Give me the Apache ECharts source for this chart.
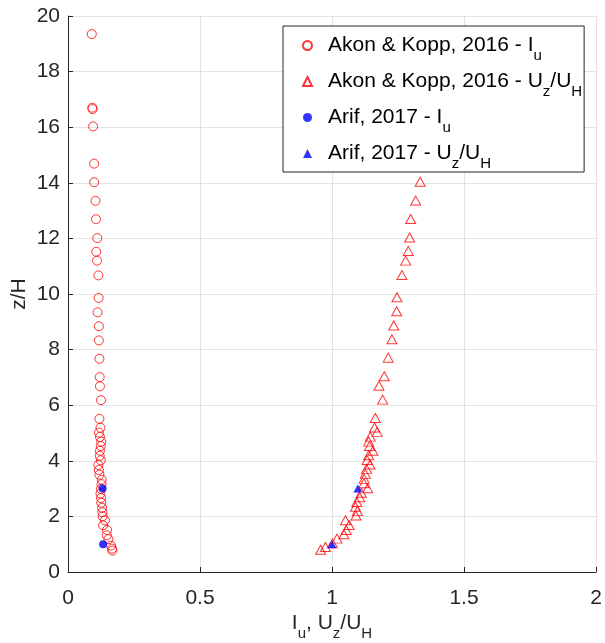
<!DOCTYPE html>
<html>
<head>
<meta charset="utf-8">
<script src="https://cdn.jsdelivr.net/npm/echarts@6/dist/echarts.min.js"></script>
<style>
html,body{margin:0;padding:0;background:#fff;}
#chart{width:605px;height:643px;}
</style>
</head>
<body>
<div id="chart"></div>
<script>
// ---- data ----
var seriesNames = ['Akon & Kopp, 2016 - Iu', 'Akon & Kopp, 2016 - Uz/UH', 'Arif, 2017 - Iu', 'Arif, 2017 - Uz/UH'];

// Akon & Kopp 2016 - turbulence intensity Iu : [Iu, z/H]
var akonIu = [
  [0.090,19.35],[0.092,16.70],[0.093,16.65],[0.095,16.03],[0.099,14.69],[0.099,14.02],
  [0.104,13.35],[0.106,12.69],[0.111,12.01],[0.107,11.52],[0.110,11.20],[0.115,10.67],
  [0.116,9.86],[0.112,9.34],[0.117,8.84],[0.117,8.33],[0.119,7.67],[0.120,7.01],
  [0.121,6.68],[0.125,6.18],[0.119,5.51],[0.123,5.19],[0.117,5.01],[0.121,4.86],
  [0.126,4.69],[0.124,4.53],[0.121,4.36],[0.120,4.18],[0.124,4.02],[0.115,3.85],
  [0.117,3.67],[0.119,3.50],[0.128,3.32],[0.127,3.16],[0.125,2.99],[0.123,2.82],
  [0.125,2.66],[0.126,2.49],[0.129,2.31],[0.130,2.15],[0.131,2.00],[0.140,1.86],
  [0.133,1.68],[0.148,1.51],[0.147,1.32],[0.153,1.18],[0.163,0.95],[0.167,0.84],
  [0.168,0.77]
];

// Akon & Kopp 2016 - mean velocity Uz/UH : [Uz/UH, z/H]
var akonUz = [
  [1.334,14.04],[1.317,13.36],[1.298,12.70],[1.294,12.03],[1.289,11.55],[1.279,11.20],
  [1.265,10.68],[1.246,9.88],[1.245,9.38],[1.234,8.87],[1.227,8.37],[1.213,7.71],
  [1.198,7.04],[1.178,6.70],[1.192,6.20],[1.164,5.54],[1.161,5.20],[1.171,5.04],
  [1.145,4.87],[1.139,4.69],[1.142,4.53],[1.155,4.36],[1.139,4.20],[1.133,4.03],
  [1.144,3.87],[1.131,3.71],[1.126,3.53],[1.122,3.35],[1.121,3.19],[1.135,3.01],
  [1.111,2.85],[1.105,2.69],[1.094,2.52],[1.089,2.35],[1.096,2.19],[1.091,2.03],
  [1.051,1.86],[1.065,1.69],[1.054,1.51],[1.045,1.36],[1.019,1.20],[1.002,1.03],
  [0.975,0.90],[0.957,0.80]
];

// Arif 2017
var arifIu = [[0.133,1.0],[0.131,3.0]];
var arifUz = [[1.000,1.0],[1.098,3.0]];

var xTicks = [0, 0.5, 1, 1.5, 2];
var yTicks = [0, 2, 4, 6, 8, 10, 12, 14, 16, 18, 20];

// ---- chart ----
var FONT = 'Liberation Sans, Arial, Helvetica, sans-serif';
var AXC = '#262626';
var RED = '#ff0000';
var BLUE = '#0000ff';

function richStyles(color) {
  return {
    f: { fontFamily: FONT, fontSize: 21, color: color, lineHeight: 24, padding: [0, 0, 0, 11] },
    n: { fontFamily: FONT, fontSize: 21, color: color, lineHeight: 24 },
    s: { fontFamily: FONT, fontSize: 15, color: color, lineHeight: 24, padding: [20, 0, 0, 0] }
  };
}
function axisNameRich(color) {
  return {
    n: { fontFamily: FONT, fontSize: 21, color: color, lineHeight: 28, verticalAlign: 'top' },
    s: { fontFamily: FONT, fontSize: 15, color: color, lineHeight: 28, verticalAlign: 'bottom' }
  };
}

var legendRich = {
  'Akon & Kopp, 2016 - Iu': '{f|Akon & Kopp, 2016 - I}{s|u}',
  'Akon & Kopp, 2016 - Uz/UH': '{f|Akon & Kopp, 2016 - U}{s|z}{n|/U}{s|H}',
  'Arif, 2017 - Iu': '{f|Arif, 2017 - I}{s|u}',
  'Arif, 2017 - Uz/UH': '{f|Arif, 2017 - U}{s|z}{n|/U}{s|H}'
};

var chart = echarts.init(document.getElementById('chart'), null, { renderer: 'canvas' });

var option = {
  animation: false,
  backgroundColor: '#ffffff',
  grid: { left: 68, right: 9, top: 16, bottom: 71, containLabel: false, outerBoundsMode: 'none' },
  xAxis: {
    type: 'value',
    min: xTicks[0], max: xTicks[xTicks.length - 1], interval: 0.5,
    name: '{n|I}{s|u}{n|, U}{s|z}{n|/U}{s|H}',
    nameLocation: 'middle',
    nameGap: 41,
    nameMoveOverlap: false,
    nameTextStyle: { rich: axisNameRich(AXC) },
    axisLine: { show: true, onZero: false, lineStyle: { color: AXC, width: 1 } },
    axisTick: { show: true, inside: true, length: 5, lineStyle: { color: AXC } },
    axisLabel: { color: AXC, fontSize: 21, fontFamily: FONT, margin: 16,
      formatter: function (v) { return String(v); } },
    splitLine: { show: true, lineStyle: { color: '#e3e3e3', width: 1 } }
  },
  yAxis: {
    type: 'value',
    min: yTicks[0], max: yTicks[yTicks.length - 1], interval: 2,
    name: 'z/H',
    nameLocation: 'middle',
    nameGap: 38,
    nameMoveOverlap: false,
    nameRotate: 90,
    nameTextStyle: { color: AXC, fontSize: 21, fontFamily: FONT },
    axisLine: { show: true, onZero: false, lineStyle: { color: AXC, width: 1 } },
    axisTick: { show: true, inside: true, length: 5, lineStyle: { color: AXC } },
    axisLabel: { color: AXC, fontSize: 21, fontFamily: FONT, margin: 8 },
    splitLine: { show: true, lineStyle: { color: '#e3e3e3', width: 1 } }
  },
  legend: {
    orient: 'vertical',
    left: 283,
    top: 26,
    padding: [2, 2, 1, 19],
    itemWidth: 9,
    itemHeight: 9,
    itemGap: 1,
    symbolKeepAspect: true,
    backgroundColor: '#ffffff',
    borderColor: AXC,
    borderWidth: 1,
    borderRadius: 0,
    data: seriesNames,
    formatter: function (name) { return legendRich[name]; },
    textStyle: { rich: richStyles('#000000') }
  },
  series: [
    {
      name: seriesNames[0], type: 'scatter', data: akonIu,
      symbol: 'circle', symbolSize: 9,
      itemStyle: { color: 'rgba(0,0,0,0)', borderColor: RED, borderWidth: 1 }
    },
    {
      name: seriesNames[1], type: 'scatter', data: akonUz,
      symbol: 'triangle', symbolSize: [10, 9],
      itemStyle: { color: 'rgba(0,0,0,0)', borderColor: RED, borderWidth: 1 }
    },
    {
      name: seriesNames[2], type: 'scatter', data: arifIu,
      symbol: 'circle', symbolSize: 8,
      itemStyle: { color: BLUE, borderColor: BLUE, borderWidth: 0 }
    },
    {
      name: seriesNames[3], type: 'scatter', data: arifUz,
      symbol: 'triangle', symbolSize: [9, 8],
      itemStyle: { color: BLUE, borderColor: BLUE, borderWidth: 0 }
    }
  ]
};

chart.setOption(option);
</script>
</body>
</html>
